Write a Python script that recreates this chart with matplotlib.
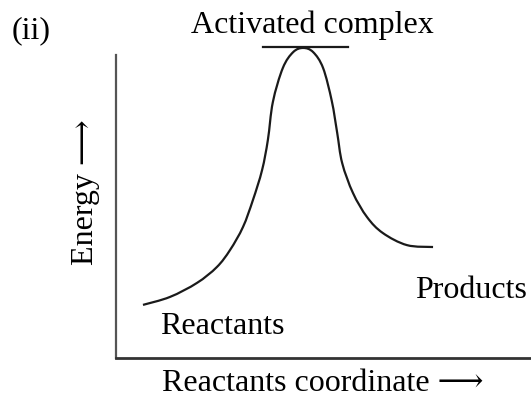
import numpy as np
import matplotlib.pyplot as plt
from matplotlib.path import Path
from matplotlib.patches import PathPatch

plt.rcParams['font.family'] = ['Liberation Serif', 'DejaVu Serif', 'DejaVu Sans']

# energy profile (reaction coordinate 0-100, energy 0-100)
coord = [6.5, 13.0, 19.5, 24.3, 27.5, 30.6, 33.0, 35.2, 36.6, 37.8, 40.2, 42.7,
         45.1, 47.5, 49.9, 52.0, 53.3, 54.5, 57.1, 60.5, 64.3, 70.1, 76.4]
energy = [16.7, 19.2, 23.6, 28.6, 34.0, 41.2, 49.7, 59.1, 68.6, 80.5, 91.2, 96.2,
          97.5, 96.2, 91.2, 80.8, 70.8, 61.3, 51.9, 44.3, 39.3, 35.5, 34.9]
complex_level = [35.4, 55.9]  # extent of the activated-complex bar


def smooth_path(xs, ys):
    # Catmull-Rom through the read points, drawn as cubic Beziers
    pts = np.column_stack([xs, ys])
    verts = [pts[0]]
    codes = [Path.MOVETO]
    for i in range(len(pts) - 1):
        p0 = pts[i - 1] if i > 0 else pts[i]
        p1, p2 = pts[i], pts[i + 1]
        p3 = pts[i + 2] if i + 2 < len(pts) else pts[i + 1]
        c1 = p1 + (p2 - p0) / 6
        c2 = p2 - (p3 - p1) / 6
        verts += [c1, c2, p2]
        codes += [Path.CURVE4] * 3
    return Path(verts, codes)


fig = plt.figure(figsize=(5.31, 4.03), dpi=100)
ax = fig.add_axes([116 / 531, 45 / 403, 415 / 531, 318 / 403])
ax.set_xlim(0, 100)
ax.set_ylim(0, 100)

ax.add_patch(PathPatch(smooth_path(coord, energy), fill=False,
                       edgecolor='#1a1a1a', lw=1.6, clip_on=False))
ax.plot(complex_level, [max(energy) + 0.3] * 2, color='#1a1a1a', lw=1.6,
        clip_on=False)

for s in ['top', 'right']:
    ax.spines[s].set_visible(False)
ax.spines['left'].set_bounds(0, 95.3)
ax.spines['left'].set_color('#555555')
ax.spines['bottom'].set_color('#333333')
ax.spines['left'].set_linewidth(1.6)
ax.spines['bottom'].set_linewidth(2.0)
ax.set_xticks([])
ax.set_yticks([])

fs = 23
fig.text(31 / 531, 1 - 31 / 403, '(ii)', fontsize=fs, ha='center', va='center')
fig.text(312 / 531, 1 - 33 / 403, 'Activated complex', fontsize=fs,
         ha='center', va='baseline')
fig.text(471 / 531, 1 - 298 / 403, 'Products', fontsize=fs,
         ha='center', va='baseline')
fig.text(222 / 531, 1 - 334 / 403, 'Reactants', fontsize=fs,
         ha='center', va='baseline')
fig.text(323 / 531, 1 - 391 / 403, 'Reactants coordinate \u27f6', fontsize=fs,
         ha='center', va='baseline')
fig.text(86 / 531, 1 - 192 / 403, 'Energy \u27f6', fontsize=fs,
         ha='center', va='center', rotation=90)

plt.savefig('out.png', dpi=100)
